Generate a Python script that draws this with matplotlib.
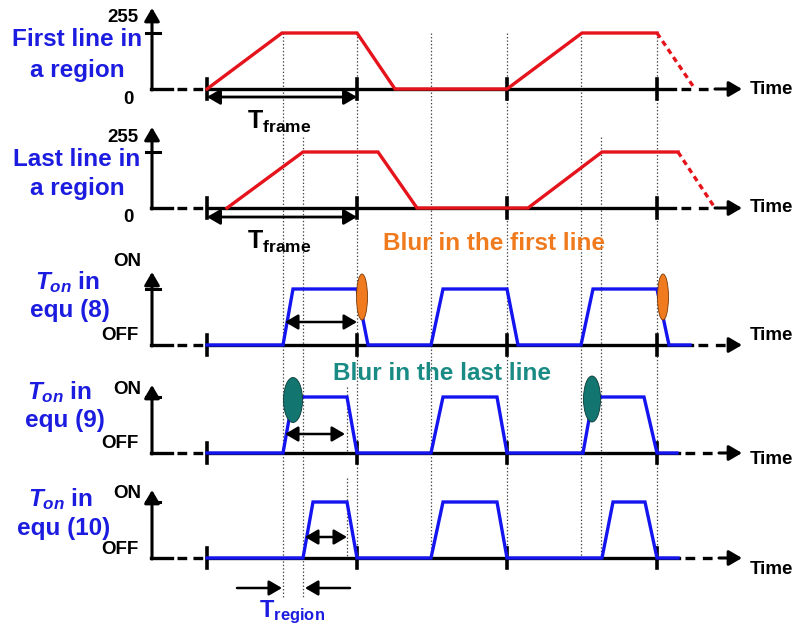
import matplotlib
matplotlib.use("Agg")
import matplotlib.pyplot as plt
from matplotlib.patches import Ellipse

plt.rcParams['font.family'] = ['Liberation Sans', 'DejaVu Sans']
plt.rcParams['font.weight'] = 'bold'
plt.rcParams['mathtext.fontset'] = 'custom'
plt.rcParams['mathtext.rm'] = 'Liberation Sans:bold'
plt.rcParams['mathtext.it'] = 'Liberation Sans:italic:bold'
plt.rcParams['lines.scale_dashes'] = False

# time axis: one frame = 150 units, t = 0 at the first frame start
frame_ticks = [0, 150, 300, 450]
dotted_t = [76, 96, 150, 224, 300, 374, 394, 450]
dotted_top = [33, 137, 33, 33, 33, 33, 137, 33]
dotted_bot = [597, 597, 558, 558, 558, 558, 558, 558]

# panel rows (baseline y, height of ON / 255 level)
baselines = [89, 208, 345, 453, 558]
level_h = 56
axis_h = [81, 81, 73, 68, 68]
line_end = [468, 468, 485, 472, 472]

# LC response of first and last line in a region
first_t = [0, 75, 150, 188, 300, 375, 450]
first_v = [0, 1, 1, 0, 0, 1, 1]
first_tail_t = [450, 488]
first_tail_v = [1, 0]
last_t = [20, 96, 171, 210, 321, 395, 471]
last_v = [0, 1, 1, 0, 0, 1, 1]
last_tail_t = [471, 508]
last_tail_v = [1, 0]

# backlight T_on
pulse_v = [0, 0, 1, 1, 0, 0, 1, 1, 0, 0, 1, 1, 0, 0]
equ8_t = [0, 76, 86, 150, 161, 224, 236, 300, 311, 374, 386, 450, 462, 483]
equ9_t = [0, 76, 86, 140, 150, 224, 236, 290, 300, 376, 386, 437, 450, 470]
equ10_t = [0, 96, 106, 140, 150, 224, 236, 290, 300, 395, 406, 438, 450, 471]

row_labels = [("First line in", "a region"), ("Last line in", "a region"),
              ("$T_{on}$ in", "equ (8)"), ("$T_{on}$ in", "equ (9)"),
              ("$T_{on}$ in", "equ (10)")]
label1_x = [-130, -130, -139, -147, -146]
label2_x = [-130, -130, -137, -142, -143]
label1_dy = [49, 49, 63, 61, 59]
label2_dy = [19, 19, 35, 32, 30]
top_labels = ["255", "255", "ON", "ON", "ON"]
bot_labels = ["0", "0", "OFF", "OFF", "OFF"]

RED = '#E5131B'
BLUE = '#1414F0'
TXT_BLUE = '#1C1CE0'
ORANGE = '#F07A1E'
TEAL = '#1A8A84'

fig = plt.figure(figsize=(7.95, 6.29), dpi=100)
ax = fig.add_axes([0, 0, 1, 1])
ax.set_xlim(-207, 588)
ax.set_ylim(629, 0)
ax.axis('off')

for t, y0, y1 in zip(dotted_t, dotted_top, dotted_bot):
    ax.plot([t, t], [y0, y1], ls=(0, (1, 1.5)), lw=0.9, color='#444444', zorder=1)
ax.plot([140, 140], [387, 453], ls=(0, (1, 1.5)), lw=0.9, color='#444444', zorder=1)
ax.plot([140, 140], [478, 558], ls=(0, (1, 1.5)), lw=0.9, color='#444444', zorder=1)

def arrow(x0, y0, x1, y1, style='-|>', lw=2.2):
    ax.annotate("", xy=(x1, y1), xytext=(x0, y0),
                arrowprops=dict(arrowstyle=style + ',head_length=0.65,head_width=0.38',
                                lw=lw, color='k', shrinkA=0, shrinkB=0,
                                mutation_scale=12), zorder=4)

for i, base in enumerate(baselines):
    top = base - level_h
    # y axis
    arrow(-55, base + 1, -55, base - axis_h[i])
    ax.plot([-61, -47], [top, top], color='k', lw=2.2, zorder=2)
    # baseline with dashed ends
    ax.plot([-56, -35], [base, base], color='k', lw=2.4, zorder=2)
    ax.plot([-30, -2], [base, base], color='k', lw=2.4, zorder=2, ls=(0, (7, 4.5)))
    ax.plot([0, line_end[i]], [base, base], color='k', lw=2.4, zorder=2)
    ax.plot([line_end[i] + 6, line_end[i] + 38], [base, base], color='k', lw=2.4,
            zorder=2, ls=(0, (7, 5.5)))
    arrow(line_end[i] + 40, base, 535, base)
    for ft in frame_ticks:
        ax.plot([ft, ft], [base - 10, base + 10], color='k', lw=2.6, zorder=2.5)
    # labels
    l1, l2 = row_labels[i]
    ax.text(label1_x[i], base - label1_dy[i], l1, color=TXT_BLUE, fontsize=17.5,
            ha='center', va='center')
    ax.text(label2_x[i], base - label2_dy[i], l2, color=TXT_BLUE,
            fontsize=17.5, ha='center', va='center')
    if i < 2:
        ax.text(-68, base - 71, top_labels[i], fontsize=13.5, ha='right', va='center')
        ax.text(-79, base + 10, bot_labels[i], fontsize=13.5, ha='center', va='center')
    else:
        ax.text(-66, base - (83 if i == 2 else 64), top_labels[i], fontsize=13.5,
                ha='right', va='center')
        ax.text(-68, base - 9, bot_labels[i], fontsize=13.5, ha='right', va='center')

time_y = [89, 208, 335, 460, 570]
for y in time_y:
    ax.text(543, y, "Time", fontsize=13.5, ha='left', va='center')

def wave(t, v, base, color, ls='-'):
    ax.plot(t, [base - level_h * s for s in v], color=color, lw=2.4, ls=ls,
            zorder=3, solid_joinstyle='miter')

wave(first_t, first_v, baselines[0], RED)
wave(first_tail_t, first_tail_v, baselines[0], RED, ls=(0, (4, 3)))
wave(last_t, last_v, baselines[1], RED)
wave(last_tail_t, last_tail_v, baselines[1], RED, ls=(0, (4, 3)))
wave(equ8_t, pulse_v, baselines[2], BLUE)
wave(equ9_t, pulse_v, baselines[3], BLUE)
wave(equ10_t, pulse_v, baselines[4], BLUE)

# T_frame arrows
for y, ly in [(97, 122), (217, 242)]:
    arrow(0, y, 150, y, style='<|-|>', lw=2.0)
    ax.text(40, ly, r"$\mathrm{T_{frame}}$", fontsize=18, ha='left', va='center')

# inner T_on arrows
arrow(78, 322, 150, 322, style='<|-|>', lw=1.8)
arrow(78, 434, 138, 434, style='<|-|>', lw=1.8)
arrow(98, 537, 140, 537, style='<|-|>', lw=1.8)

# T_region
arrow(30, 588, 75, 588, lw=1.8)
arrow(143, 588, 98, 588, lw=1.8)
ax.text(52, 612, r"$\mathrm{T_{region}}$", color=TXT_BLUE, fontsize=17,
        ha='left', va='center')

# blur marks
for cx in [155, 456]:
    ax.add_patch(Ellipse((cx, 297), 11, 46, facecolor=ORANGE, edgecolor='#7a3a08',
                         lw=0.6, zorder=5))
ax.add_patch(Ellipse((86, 400), 19, 45, facecolor='#137570', edgecolor='#0a3a38',
                     lw=0.6, zorder=5))
ax.add_patch(Ellipse((385, 399), 17, 46, facecolor='#137570', edgecolor='#0a3a38',
                     lw=0.6, zorder=5))

ax.text(176, 244, "Blur in the first line", color=ORANGE, fontsize=17.5,
        ha='left', va='center')
ax.text(126, 373, "Blur in the last line", color=TEAL, fontsize=17.5,
        ha='left', va='center')

fig.savefig("out.png", dpi=100)
